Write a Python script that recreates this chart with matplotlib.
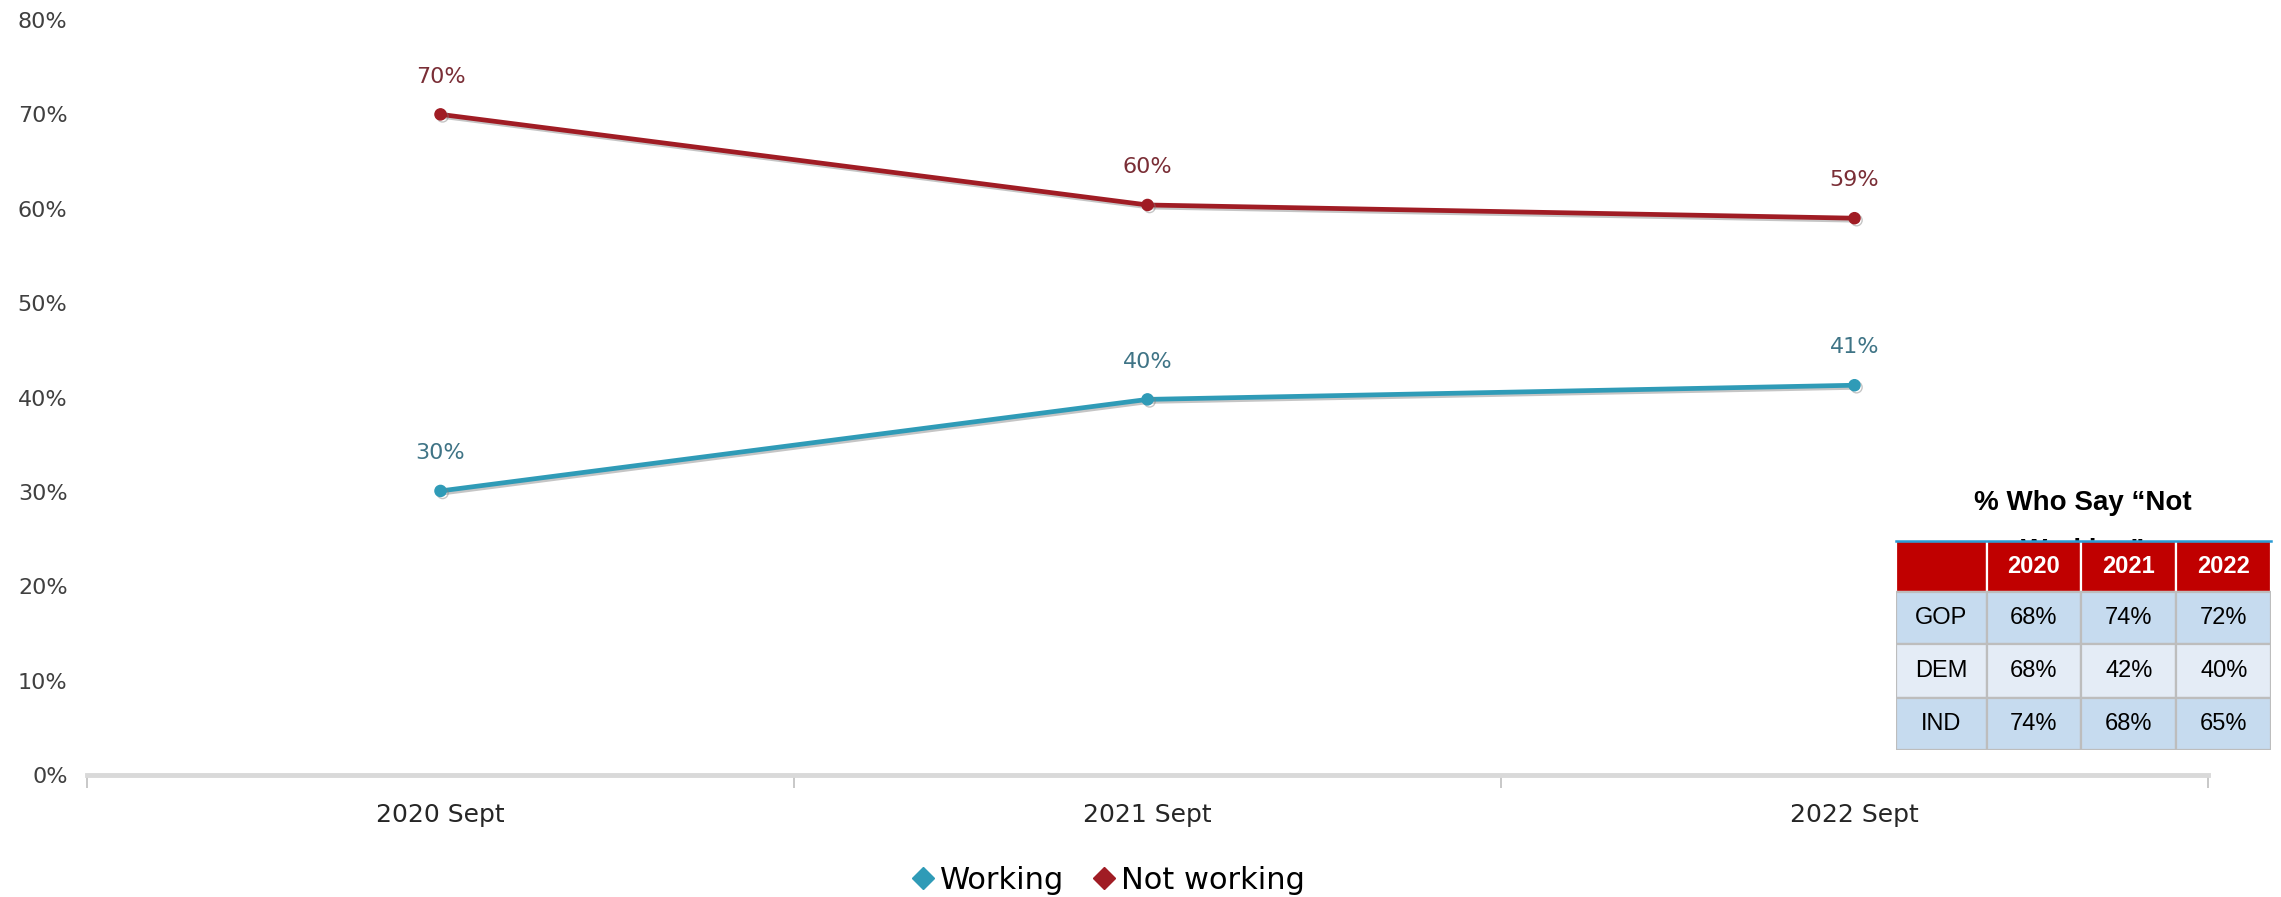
import numpy as np
import matplotlib
matplotlib.use("Agg")
import matplotlib.pyplot as plt
import matplotlib.patheffects as pe
from matplotlib.lines import Line2D
from matplotlib.patches import Rectangle

# --- data ---
categories = ["2020 Sept", "2021 Sept", "2022 Sept"]
working = [30.1, 39.8, 41.3]
not_working = [70.0, 60.4, 59.0]
working_labels = ["30%", "40%", "41%"]
not_working_labels = ["70%", "60%", "59%"]

table_title = ["% Who Say \u201cNot", "Working\u201d"]
table_years = ["2020", "2021", "2022"]
table_groups = ["GOP", "DEM", "IND"]
table_values = [["68%", "74%", "72%"],
                ["68%", "42%", "40%"],
                ["74%", "68%", "65%"]]

# --- styles ---
RED = "#A01C24"
TEAL = "#2F9BB7"
RED_LBL = "#7A2E36"
TEAL_LBL = "#3F7486"
W, H = 2281, 897
plt.rcParams["font.family"] = ["DejaVu Sans"]

fig = plt.figure(figsize=(W / 100, H / 100), dpi=100)
ax = fig.add_axes([87 / W, 1 - 775 / H, (2208 - 87) / W, (775 - 20) / H])

x = np.arange(len(categories))
shadow = [pe.SimpleLineShadow(offset=(1.5, -1.5), shadow_color="gray", alpha=0.45), pe.Normal()]
ax.plot(x, not_working, color=RED, lw=3.4, marker="o", ms=8, path_effects=shadow, zorder=3)
ax.plot(x, working, color=TEAL, lw=3.4, marker="o", ms=8, path_effects=shadow, zorder=3)

for xi, v, lbl in zip(x, not_working, not_working_labels):
    ax.annotate(lbl, (xi, v), xytext=(0, 20), textcoords="offset points",
                ha="center", va="bottom", fontsize=16, color=RED_LBL)
for xi, v, lbl in zip(x, working, working_labels):
    ax.annotate(lbl, (xi, v), xytext=(0, 20), textcoords="offset points",
                ha="center", va="bottom", fontsize=16, color=TEAL_LBL)

ax.set_xlim(-0.5, len(categories) - 0.5)
ax.set_ylim(0, 80)
ax.set_yticks(np.arange(0, 81, 10))
ax.set_yticklabels([f"{t}%" for t in range(0, 81, 10)], fontsize=16, color="#404040")
ax.tick_params(axis="y", length=0, pad=14)

ax.set_xticks(np.arange(-0.5, len(categories), 1.0))
ax.set_xticklabels([])
ax.set_xticks(x, minor=True)
ax.set_xticklabels(categories, minor=True, fontsize=18, color="#262626")
ax.tick_params(axis="x", which="major", length=9, width=1.2, color="#BFBFBF")
ax.tick_params(axis="x", which="minor", length=0, pad=20)

for s in ["top", "right", "left"]:
    ax.spines[s].set_visible(False)
ax.spines["bottom"].set_color("#D9D9D9")
ax.spines["bottom"].set_linewidth(3.5)

handles = [Line2D([], [], color=TEAL, marker="D", ls="none", ms=11),
           Line2D([], [], color=RED, marker="D", ls="none", ms=11)]
fig.legend(handles, ["Working", "Not working"], loc="center", bbox_to_anchor=(1108 / W, 1 - 880 / H),
           ncol=2, frameon=False, fontsize=22, handlelength=0.8, handletextpad=0.15,
           columnspacing=0.9)

# --- inset table ---
col_w = [91, 94.5, 95, 95]
row_h = [51, 52.5, 53.5, 52.5]
tx0, ty0 = 1895.7, 540.7
tw, th = sum(col_w), sum(row_h)

# title: second line sits mostly behind the table, as in the original
for line, yc in zip(table_title, [503, 551]):
    fig.text(2083 / W, 1 - yc / H, line, ha="center", va="center", fontsize=20,
             fontweight="bold", family="Liberation Sans", zorder=1)

tax = fig.add_axes([tx0 / W, 1 - (ty0 + th) / H, tw / W, th / H], zorder=5)
tax.set_xlim(0, tw)
tax.set_ylim(th, 0)
tax.axis("off")

row_colors = ["#C00000", "#C6DBEF", "#E4ECF6", "#C6DBEF"]
xs = np.concatenate([[0], np.cumsum(col_w)])
ys = np.concatenate([[0], np.cumsum(row_h)])
for r in range(4):
    for c in range(4):
        edge = "white" if r == 0 else "#BDBDBD"
        tax.add_patch(Rectangle((xs[c], ys[r]), col_w[c], row_h[r], facecolor=row_colors[r],
                                edgecolor=edge, lw=1.6))
        if r == 0 and c == 0:
            continue
        if r == 0:
            txt, color, weight = table_years[c - 1], "white", "bold"
        elif c == 0:
            txt, color, weight = table_groups[r - 1], "black", "normal"
        else:
            txt, color, weight = table_values[r - 1][c - 1], "black", "normal"
        tax.text((xs[c] + xs[c + 1]) / 2, (ys[r] + ys[r + 1]) / 2, txt, ha="center", va="center",
                 fontsize=17, color=color, fontweight=weight, family="Liberation Sans")
tax.plot([0, tw], [0, 0], color="#2A9BD4", lw=1.8, clip_on=False)

fig.savefig("out.png", dpi=100, facecolor="white")
